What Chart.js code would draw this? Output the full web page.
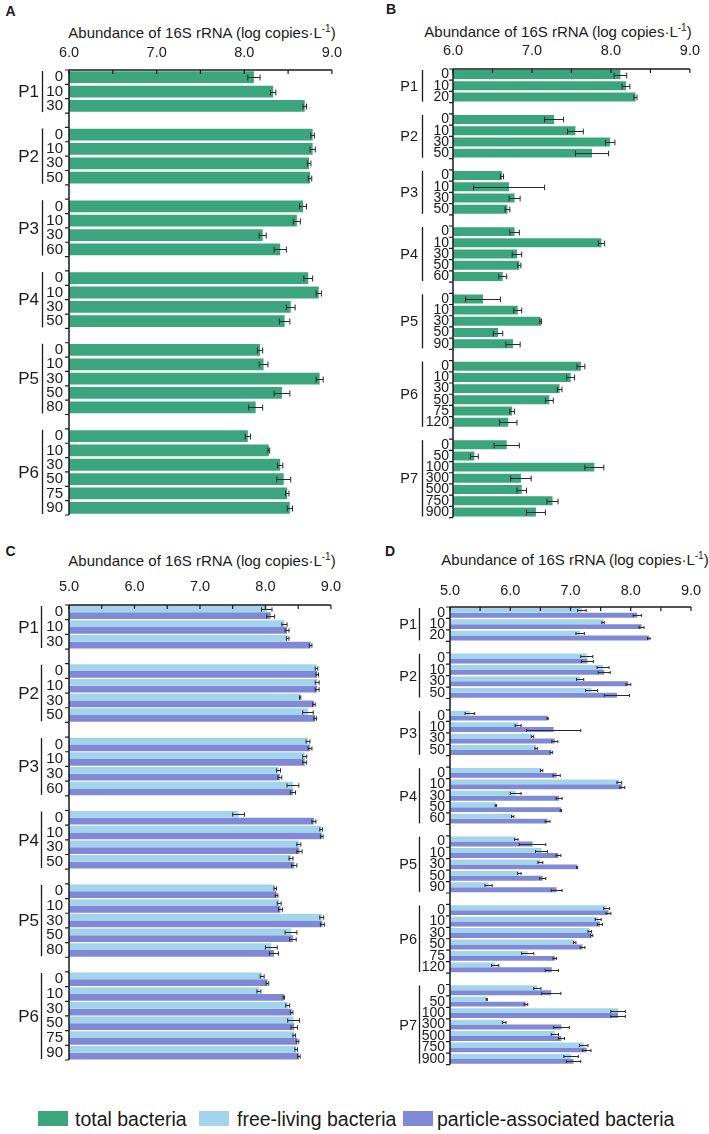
<!DOCTYPE html>
<html><head><meta charset="utf-8">
<script src="https://cdn.jsdelivr.net/npm/chart.js@4.4.1/dist/chart.umd.min.js"></script>
<style>
body{margin:0;background:#fff;width:709px;height:1134px;position:relative;overflow:hidden;font-family:"Liberation Sans",Arial,sans-serif;color:#1a1a1a;}
canvas{position:absolute;}
.let{position:absolute;font-weight:bold;font-size:14px;line-height:1;transform:translate(-50%,-50%);}
.ttl{position:absolute;font-size:15px;line-height:1;white-space:nowrap;transform:translate(-50%,-50%);}
.ttl sup{font-size:10px;vertical-align:6px;line-height:0;}
.sw{position:absolute;width:30px;height:15px;top:1111px;}
.lt{position:absolute;font-size:19.5px;line-height:1;white-space:nowrap;top:1110px;}
</style></head><body>
<div class="let" style="left:10.5px;top:11px">A</div>
<div class="let" style="left:391px;top:9px">B</div>
<div class="let" style="left:10.5px;top:551px">C</div>
<div class="let" style="left:390px;top:551px">D</div>
<div class="ttl" style="left:202px;top:32px">Abundance of 16S rRNA (log copies·L<sup>-1</sup>)</div>
<div class="ttl" style="left:558px;top:31px">Abundance of 16S rRNA (log copies·L<sup>-1</sup>)</div>
<div class="ttl" style="left:202px;top:560px">Abundance of 16S rRNA (log copies·L<sup>-1</sup>)</div>
<div class="ttl" style="left:575px;top:559px">Abundance of 16S rRNA (log copies·L<sup>-1</sup>)</div>
<canvas id="cA" width="350" height="530" style="left:0;top:0"></canvas>
<canvas id="cB" width="354" height="530" style="left:355px;top:0"></canvas>
<canvas id="cC" width="350" height="545" style="left:0;top:530px"></canvas>
<canvas id="cD" width="354" height="548" style="left:355px;top:530px"></canvas>
<div class="sw" style="left:38px;background:#3ba67e"></div><div class="lt" style="left:75px">total bacteria</div>
<div class="sw" style="left:199px;background:#a3d4ec"></div><div class="lt" style="left:237px">free-living bacteria</div>
<div class="sw" style="left:403px;background:#7f89d6"></div><div class="lt" style="left:437px">particle-associated bacteria</div>
<script>
const FONT = '"Liberation Sans", Arial, sans-serif';
const COL_TOTAL = '#3ba67e', COL_FREE = '#a3d4ec', COL_PART = '#7f89d6';

// ---- tick values ----
const xTicksAB = [6, 6.5, 7, 7.5, 8, 8.5, 9];
const xTicksCD = [5, 5.5, 6, 6.5, 7, 7.5, 8, 8.5, 9];

// ---- Panel A (total bacteria) ----
const groupsA = ['P1','P2','P3','P4','P5','P6'];
const depthsA = [['0','10','30'],['0','10','30','50'],['0','10','30','60'],['0','10','30','50'],['0','10','30','50','80'],['0','10','30','50','75','90']];
const totalA = [[8.11,8.33,8.69],[8.78,8.78,8.74,8.75],[8.67,8.60,8.21,8.41],[8.73,8.85,8.53,8.46],[8.18,8.22,8.86,8.43,8.13],[8.04,8.28,8.41,8.45,8.49,8.52]];
const totalErrA = [[0.07,0.03,0.02],[0.02,0.03,0.02,0.02],[0.04,0.04,0.04,0.07],[0.05,0.03,0.05,0.06],[0.03,0.05,0.04,0.09,0.08],[0.03,0.01,0.03,0.08,0.02,0.03]];

// ---- Panel B (total bacteria) ----
const groupsB = ['P1','P2','P3','P4','P5','P6','P7'];
const depthsB = [['0','10','20'],['0','10','30','50'],['0','10','30','50'],['0','10','30','50','60'],['0','10','30','50','90'],['0','10','30','50','75','120'],['0','50','100','300','500','750','900']];
const totalB = [[8.12,8.19,8.31],[7.28,7.55,7.99,7.76],[6.62,6.71,6.78,6.69],[6.78,7.88,6.81,6.84,6.63],[6.38,6.82,7.11,6.57,6.76],[7.62,7.49,7.35,7.22,6.75,6.70],[6.68,6.27,7.79,6.86,6.87,7.26,7.05]];
const totalErrB = [[0.08,0.05,0.02],[0.12,0.10,0.06,0.21],[0.02,0.45,0.07,0.03],[0.06,0.04,0.06,0.02,0.05],[0.22,0.05,0.01,0.06,0.09],[0.05,0.05,0.03,0.05,0.03,0.11],[0.16,0.05,0.12,0.13,0.06,0.07,0.12]];

// ---- Panel C (free-living / particle-associated) ----
const groupsC = ['P1','P2','P3','P4','P5','P6'];
const depthsC = [['0','10','30'],['0','10','30','50'],['0','10','30','60'],['0','10','30','50'],['0','10','30','50','80'],['0','10','30','50','75','90']];
const freeC = [[8.02,8.29,8.34],[8.78,8.79,8.53,8.65],[8.65,8.60,8.20,8.42],[7.59,8.85,8.51,8.39],[8.15,8.21,8.86,8.39,8.09],[7.95,7.90,8.34,8.43,8.44,8.47]];
const freeErrC = [[0.08,0.04,0.02],[0.02,0.03,0.01,0.08],[0.03,0.03,0.03,0.09],[0.09,0.02,0.03,0.03],[0.02,0.03,0.03,0.09,0.09],[0.03,0.03,0.03,0.09,0.02,0.02]];
const partC = [[8.08,8.33,8.69],[8.79,8.79,8.74,8.76],[8.68,8.60,8.22,8.42],[8.74,8.86,8.52,8.44],[8.17,8.23,8.87,8.42,8.13],[8.03,8.28,8.40,8.44,8.49,8.51]];
const partErrC = [[0.06,0.03,0.02],[0.02,0.03,0.02,0.02],[0.03,0.03,0.03,0.04],[0.03,0.02,0.04,0.04],[0.02,0.03,0.03,0.05,0.07],[0.02,0.01,0.02,0.05,0.02,0.02]];

// ---- Panel D (free-living / particle-associated) ----
const groupsD = ['P1','P2','P3','P4','P5','P6','P7'];
const depthsD = [['0','10','20'],['0','10','30','50'],['0','10','30','50'],['0','10','30','50','60'],['0','10','30','50','90'],['0','10','30','50','75','120'],['0','50','100','300','500','750','900']];
const freeD = [[7.19,7.54,7.16],[7.27,7.54,7.16,7.35],[5.33,6.13,6.37,6.43],[6.52,7.81,6.09,5.76,6.04],[6.10,6.52,6.50,6.15,5.64],[7.60,7.46,7.32,7.07,6.29,5.75],[6.45,5.61,7.79,5.90,6.74,7.22,7.01]];
const freeErrD = [[0.07,0.02,0.07],[0.10,0.10,0.06,0.10],[0.08,0.05,0.02,0.02],[0.02,0.04,0.09,0.01,0.02],[0.03,0.10,0.04,0.03,0.06],[0.05,0.05,0.03,0.02,0.10,0.06],[0.06,0.01,0.12,0.03,0.06,0.07,0.12]];
const partD = [[8.11,8.18,8.30],[7.28,7.56,7.96,7.77],[6.62,6.72,6.74,6.68],[6.77,7.86,6.81,6.84,6.62],[6.37,6.80,7.11,6.54,6.77],[7.63,7.49,7.35,7.20,6.74,6.69],[6.68,6.26,7.79,6.85,6.85,7.27,7.05]];
const partErrD = [[0.07,0.04,0.02],[0.10,0.10,0.04,0.21],[0.01,0.45,0.05,0.02],[0.06,0.04,0.05,0.01,0.04],[0.22,0.04,0.01,0.05,0.09],[0.04,0.04,0.02,0.04,0.03,0.11],[0.16,0.03,0.12,0.13,0.05,0.07,0.12]];

function build(depths, series) {
  const labels = [], ranges = [], data = series.map(() => []);
  depths.forEach((ds, gi) => {
    if (gi > 0) { labels.push(''); data.forEach(d => d.push(null)); }
    const start = labels.length;
    ds.forEach((lab, j) => { labels.push(lab); series.forEach((s, k) => data[k].push(s[gi][j])); });
    ranges.push([start, labels.length - 1]);
  });
  return { labels, data, ranges };
}

const decor = {
  id: 'decor',
  afterDatasetsDraw(chart, args, o) {
    const ctx = chart.ctx, xs = chart.scales.x;
    ctx.save(); ctx.strokeStyle = '#2a2a2a'; ctx.lineWidth = 1;
    chart.data.datasets.forEach((ds, i) => {
      const meta = chart.getDatasetMeta(i);
      meta.data.forEach((el, j) => {
        const v = ds.data[j], e = ds.err[j];
        if (v == null || !e) return;
        const x1 = xs.getPixelForValue(v - e), x2 = xs.getPixelForValue(v + e);
        const y = Math.round(el.y) + 0.5, c = Math.min(3, el.height * 0.32);
        ctx.beginPath();
        ctx.moveTo(x1, y); ctx.lineTo(x2, y);
        ctx.moveTo(x1, y - c); ctx.lineTo(x1, y + c);
        ctx.moveTo(x2, y - c); ctx.lineTo(x2, y + c);
        ctx.stroke();
      });
    });
    ctx.restore();
  },
  afterDraw(chart, args, o) {
    const ctx = chart.ctx, a = chart.chartArea, xs = chart.scales.x;
    const n = chart.data.labels.length, slot = (a.bottom - a.top) / n;
    ctx.save(); ctx.strokeStyle = '#1a1a1a';
    ctx.lineWidth = 1.5;
    ctx.beginPath();
    ctx.moveTo(a.left, a.top); ctx.lineTo(a.right, a.top);
    ctx.moveTo(a.left, a.top); ctx.lineTo(a.left, a.bottom);
    ctx.stroke();
    ctx.lineWidth = 1.2;
    ctx.beginPath();
    o.ticks.forEach(v => { const x = xs.getPixelForValue(v); ctx.moveTo(x, a.top); ctx.lineTo(x, a.top + 4); });
    for (let i = 0; i <= n; i++) { const y = a.top + i * slot; ctx.moveTo(a.left - 4, y); ctx.lineTo(a.left, y); }
    ctx.stroke();
    ctx.fillStyle = '#1a1a1a';
    ctx.font = o.gFont + 'px ' + FONT;
    ctx.textAlign = 'right'; ctx.textBaseline = 'middle';
    ctx.lineWidth = 1.3;
    o.ranges.forEach((r, gi) => {
      const yt = a.top + r[0] * slot, yb = a.top + (r[1] + 1) * slot;
      ctx.fillText(o.groups[gi], o.labelX, (yt + yb) / 2 + 1);
      ctx.beginPath(); ctx.moveTo(o.bracketX, yt + 1); ctx.lineTo(o.bracketX, yb - 1); ctx.stroke();
    });
    ctx.restore();
  }
};

function makeChart(id, p) {
  const b = build(p.depths, p.vals.concat(p.errs));
  const n = p.vals.length;
  const datasets = p.vals.map((v, k) => ({
    data: b.data[k], err: b.data[n + k], backgroundColor: p.colors[k], borderWidth: 0,
    categoryPercentage: p.catPct, barPercentage: 1
  }));
  return new Chart(document.getElementById(id), {
    type: 'bar',
    data: { labels: b.labels, datasets },
    options: {
      indexAxis: 'y', responsive: false, animation: false, devicePixelRatio: 1,
      layout: { padding: { left: 0, right: p.padR, top: p.padT, bottom: p.padB } },
      plugins: {
        legend: { display: false }, tooltip: { enabled: false },
        decor: { ranges: b.ranges, groups: p.groups, labelX: p.labelX, bracketX: p.bracketX, gFont: p.gFont, ticks: p.ticks }
      },
      scales: {
        x: {
          position: 'top', min: p.min, max: p.max,
          afterBuildTicks: s => { s.ticks = p.ticks.map(v => ({ value: v })); },
          afterFit: s => { s.height = 30; },
          grid: { display: false, drawTicks: false }, border: { display: false },
          ticks: { padding: p.xPad, color: '#1a1a1a', font: { size: 14.5, family: FONT },
                   callback: v => Number.isInteger(v) ? v.toFixed(1) : '' }
        },
        y: {
          afterFit: s => { s.width = p.yW; },
          grid: { display: false, drawTicks: false, offset: true }, border: { display: false },
          ticks: { autoSkip: false, padding: p.yPad, color: '#1a1a1a', font: { size: p.cFont, family: FONT } }
        }
      }
    },
    plugins: [decor]
  });
}

makeChart('cA', { depths: depthsA, groups: groupsA, vals: [totalA], errs: [totalErrA], colors: [COL_TOTAL],
  catPct: 0.82, min: 6, max: 9, ticks: xTicksAB, padR: 13, padT: 40, padB: 5, yW: 69, xPad: 8, yPad: 6,
  cFont: 15, gFont: 17, labelX: 39, bracketX: 42.5 });
makeChart('cB', { depths: depthsB, groups: groupsB, vals: [totalB], errs: [totalErrB], colors: [COL_TOTAL],
  catPct: 0.8, min: 6, max: 9, ticks: xTicksAB, padR: 18, padT: 39, padB: 7, yW: 98, xPad: 9, yPad: 4,
  cFont: 14, gFont: 14.5, labelX: 63, bracketX: 67.5 });
makeChart('cC', { depths: depthsC, groups: groupsC, vals: [freeC, partC], errs: [freeErrC, partErrC], colors: [COL_FREE, COL_PART],
  catPct: 0.92, min: 5, max: 9, ticks: xTicksCD, padR: 13, padT: 45, padB: 5, yW: 69, xPad: 9, yPad: 6,
  cFont: 15, gFont: 17, labelX: 39, bracketX: 41.5 });
makeChart('cD', { depths: depthsD, groups: groupsD, vals: [freeD, partD], errs: [freeErrD, partErrD], colors: [COL_FREE, COL_PART],
  catPct: 0.86, min: 5, max: 9, ticks: xTicksCD, padR: 18, padT: 47, padB: 5, yW: 95, xPad: 7, yPad: 5,
  cFont: 14, gFont: 14.5, labelX: 62, bracketX: 64.5 });
</script>
</body></html>
